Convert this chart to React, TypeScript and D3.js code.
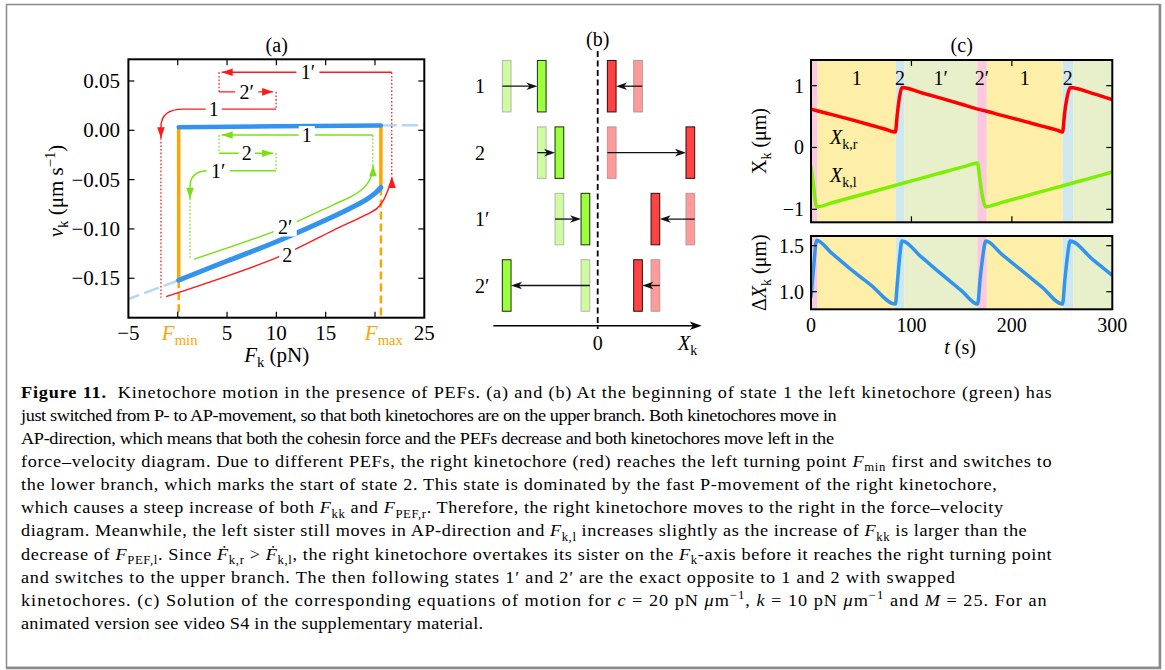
import React from 'react'
import * as d3 from 'd3'

type Pt = [number, number]
type Seg = [string, string]

const W = 1165
const H = 670
const SERIF = '"Liberation Serif", "DejaVu Serif", serif'

const RED = '#ff1a1a'
const GREEN = '#7ae014'
const BLUE = '#3394ee'
const ORANGE = '#ffa500'

// ---------- (a) force-velocity diagram ----------
const fTicks = [0, 5, 10, 15, 20]
const fLabels: [number, string][] = [[-5, '−5'], [5, '5'], [10, '10'], [15, '15'], [25, '25']]
const vTicks = [0.05, 0, -0.05, -0.1, -0.15]
const vLabels = ['0.05', '0.00', '−0.05', '−0.10', '−0.15']
const F_MIN = 0.1
const F_MAX = 20.6
const upperBranch: Pt[] = [[0.1, 0.003], [10, 0.004], [20.6, 0.005]]
const lowerBranch: Pt[] = [[0.1, -0.152], [5, -0.1325], [10, -0.113], [15, -0.091], [17.5, -0.079], [19, -0.071], [20, -0.064], [20.6, -0.058]]
const upperGhost: Pt[] = [[20.6, 0.005], [25, 0.0053]]
const lowerGhost: Pt[] = [[0.1, -0.152], [-5, -0.171]]

type Ann = { kind: string; pts: Pt[]; label: string; at: Pt; dir: string }
// right kinetochore (red) path through the states
const redAnn: Ann[] = [
  { kind: 'line', pts: [[21.7, 0.0588], [4.46, 0.0588]], label: '1′', at: [13.2, 0.0588], dir: 'left' },
  { kind: 'line', pts: [[4.19, 0.039], [9.67, 0.039]], label: '2′', at: [7.0, 0.039], dir: 'right' },
  { kind: 'bend', pts: [[9.97, 0.0215], [0.57, 0.0215], [-1.7, 0.0215], [-1.7, 0.0034], [-1.7, -0.008]], label: '1', at: [3.65, 0.0215], dir: 'down' },
  { kind: 'curve', pts: [[-1.19, -0.1687], [10.04, -0.1291], [15.78, -0.1014], [19.17, -0.0852], [20.18, -0.0794], [20.85, -0.071], [21.3, -0.0609], [21.6, -0.052], [21.73, -0.0474]], label: '2', at: [11.1, -0.1268], dir: 'up' },
]
// left kinetochore (green)
const greenAnn: Ann[] = [
  { kind: 'line', pts: [[19.78, -0.0048], [4.46, -0.0048]], label: '1', at: [13.08, -0.0048], dir: 'left' },
  { kind: 'line', pts: [[4.19, -0.0233], [9.67, -0.0233]], label: '2', at: [7.0, -0.0233], dir: 'right' },
  { kind: 'bend', pts: [[9.97, -0.041], [3.1, -0.041], [1.25, -0.041], [1.25, -0.0575], [1.25, -0.0693]], label: '1′', at: [4.1, -0.041], dir: 'down' },
  { kind: 'curve', pts: [[1.65, -0.1306], [10.04, -0.1014], [15.78, -0.0755], [17.8, -0.066], [18.9, -0.058], [19.5, -0.0495], [19.75, -0.042], [19.8, -0.0355]], label: '2′', at: [10.9, -0.0985], dir: 'up' },
]
const redDots: Pt[][] = [
  [[21.7, 0.0588], [21.7, -0.0474]],
  [[4.19, 0.0588], [4.19, 0.039]],
  [[9.97, 0.039], [9.97, 0.0215]],
  [[-1.7, -0.008], [-1.7, -0.1697]],
]
const greenDots: Pt[][] = [
  [[19.78, -0.0048], [19.78, -0.0355]],
  [[4.19, -0.0048], [4.19, -0.0233]],
  [[9.97, -0.0233], [9.97, -0.041]],
  [[1.25, -0.0693], [1.25, -0.1306]],
]

// ---------- (b) kinetochore positions ----------
const rowNames = ['1', '2', '1′', '2′']
const leftFrom = [-0.948, -0.583, -0.399, -0.128]
const leftTo = [-0.583, -0.399, -0.128, -0.948]
const rightFrom = [0.42, 0.146, 0.965, 0.601]
const rightTo = [0.146, 0.965, 0.601, 0.42]

// ---------- (c) time courses ----------
const states: [string, number, number][] = [
  ['2′', 0, 6.6], ['1', 6.6, 84.3], ['2', 84.3, 92.8], ['1′', 92.8, 165.6],
  ['2′', 165.6, 175], ['1', 175, 250.5], ['2', 250.5, 261], ['1′', 261, 300],
]
const stateColor: Record<string, string> = { '1': '#fdeea8', '2': '#cfe7ef', '1′': '#e7f0ca', '2′': '#fbc8df' }
const labelledStates = [1, 2, 3, 4, 5, 6]
const xRight: Pt[] = [
  [0, 0.62], [6, 0.595], [20, 0.535], [40, 0.45], [60, 0.36], [75, 0.29], [84, 0.25],
  [86, 0.55], [88.5, 0.85], [90.5, 0.97], [110, 0.885], [130, 0.795], [150, 0.7], [166, 0.62],
  [175, 0.585], [190, 0.52], [210, 0.435], [230, 0.345], [245, 0.28], [250.5, 0.25],
  [252.5, 0.55], [255.5, 0.85], [258, 0.97], [280, 0.875], [300, 0.775],
]
const xLeft: Pt[] = [
  [0, -0.31], [2.5, -0.62], [5.6, -0.96], [20, -0.897], [40, -0.808], [60, -0.72], [84, -0.612],
  [100, -0.54], [120, -0.452], [140, -0.363], [155, -0.297], [165.7, -0.25], [168.2, -0.52],
  [171, -0.82], [173.8, -0.96], [190, -0.888], [210, -0.8], [230, -0.71], [250, -0.622],
  [270, -0.533], [290, -0.444], [300, -0.397],
]
const deltaX: Pt[] = [
  [0, 0.94], [2.5, 1.25], [5.6, 1.56], [20, 1.425], [40, 1.24], [60, 1.07], [84, 0.866],
  [86, 1.1], [88.5, 1.4], [90.5, 1.55], [110, 1.375], [130, 1.19], [150, 1.01], [165.9, 0.866],
  [168.5, 1.15], [171.5, 1.42], [174, 1.55], [190, 1.405], [210, 1.228], [230, 1.05],
  [250.5, 0.866], [252.5, 1.1], [255.5, 1.4], [258, 1.55], [280, 1.355], [300, 1.178],
]
const tTicks = [0, 100, 200, 300]
const xkTicks = [-1, 0, 1]
const dTicks = [1.0, 1.5]

// ---------- caption ----------
const caption: Seg[][] = [
  [['b', 'Figure 11.'], ['n', '  Kinetochore motion in the presence of PEFs. (a) and (b) At the beginning of state 1 the left kinetochore (green) has']],
  [['n', 'just switched from P- to AP-movement, so that both kinetochores are on the upper branch. Both kinetochores move in']],
  [['n', 'AP-direction, which means that both the cohesin force and the PEFs decrease and both kinetochores move left in the']],
  [['n', 'force–velocity diagram. Due to different PEFs, the right kinetochore (red) reaches the left turning point '], ['i', 'F'], ['sub', 'min'], ['n', ' first and switches to']],
  [['n', 'the lower branch, which marks the start of state 2. This state is dominated by the fast P-movement of the right kinetochore,']],
  [['n', 'which causes a steep increase of both '], ['i', 'F'], ['sub', 'kk'], ['n', ' and '], ['i', 'F'], ['sub', 'PEF,r'], ['n', '. Therefore, the right kinetochore moves to the right in the force–velocity']],
  [['n', 'diagram. Meanwhile, the left sister still moves in AP-direction and '], ['i', 'F'], ['sub', 'k,l'], ['n', ' increases slightly as the increase of '], ['i', 'F'], ['sub', 'kk'], ['n', ' is larger than the']],
  [['n', 'decrease of '], ['i', 'F'], ['sub', 'PEF,l'], ['n', '. Since '], ['i', 'Ḟ'], ['sub', 'k,r'], ['n', ' > '], ['i', 'Ḟ'], ['sub', 'k,l'], ['n', ', the right kinetochore overtakes its sister on the '], ['i', 'F'], ['sub', 'k'], ['n', '-axis before it reaches the right turning point']],
  [['n', 'and switches to the upper branch. The then following states 1′ and 2′ are the exact opposite to 1 and 2 with swapped']],
  [['n', 'kinetochores. (c) Solution of the corresponding equations of motion for '], ['i', 'c'], ['n', ' = 20 pN '], ['i', 'μ'], ['n', 'm'], ['sup', '−1'], ['n', ', '], ['i', 'k'], ['n', ' = 10 pN '], ['i', 'μ'], ['n', 'm'], ['sup', '−1'], ['n', ' and '], ['i', 'M'], ['n', ' = 25. For an']],
  [['n', 'animated version see video S4 in the supplementary material.']],
]
const captionEnds = [1051.7, 836.7, 834, 1051.7, 996.7, 1003, 1026.7, 1051.7, 955, 1046.7, 483]
const CAP_X = 21
const CAP_STRETCH = 1.06

const DIR: Record<string, number> = { left: Math.PI, right: 0, up: -Math.PI / 2, down: Math.PI / 2 }

const tri = (x: number, y: number, ang: number, len = 11, hw = 3.8) => {
  const c = Math.cos(ang), s = Math.sin(ang)
  const bx = x - len * c, by = y - len * s
  return `M${x},${y}L${bx - hw * s},${by + hw * c}L${bx + hw * s},${by - hw * c}Z`
}
const stealth = (x: number, y: number, ang: number, len = 11, hw = 4) => {
  const c = Math.cos(ang), s = Math.sin(ang)
  const bx = x - len * c, by = y - len * s
  const nx = x - len * 0.72 * c, ny = y - len * 0.72 * s
  return `M${x},${y}L${bx - hw * s},${by + hw * c}L${nx},${ny}L${bx + hw * s},${by - hw * c}Z`
}

function Rich({ segs, size }: { segs: Seg[]; size: number }) {
  let off = 0
  return (
    <>
      {segs.map(([k, t], i) => {
        const target = k === 'sub' ? size * 0.25 : k === 'sup' ? -size * 0.4 : 0
        const dy = target - off
        off = target
        const small = k === 'sub' || k === 'sup'
        return (
          <tspan key={i} dy={dy || undefined} fontSize={small ? size * 0.7 : undefined}
            fontStyle={k === 'i' ? 'italic' : undefined} fontWeight={k === 'b' ? 'bold' : undefined}>{t}</tspan>
        )
      })}
    </>
  )
}

export default function App() {
  const xF = d3.scaleLinear().domain([-5, 25]).range([128.4, 424.3])
  const yV = d3.scaleLinear().domain([-0.19, 0.072]).range([317.7, 59.3])
  const xB = d3.scaleLinear().domain([-1, 1]).range([501.7, 693.7])
  const yB = d3.scalePoint<string>().domain(rowNames).range([86.2, 285.5])
  const xT = d3.scaleLinear().domain([0, 300]).range([811, 1112.3])
  const yX = d3.scaleLinear().domain([-1.21, 1.415]).range([222.3, 60])
  const yD = d3.scaleLinear().domain([0.809, 1.605]).range([309.3, 236])

  const lineA = d3.line<Pt>().x(d => xF(d[0])).y(d => yV(d[1]))
  const curveA = d3.line<Pt>().x(d => xF(d[0])).y(d => yV(d[1])).curve(d3.curveCatmullRom)
  const lineX = d3.line<Pt>().x(d => xT(d[0])).y(d => yX(d[1])).curve(d3.curveMonotoneX)
  const lineD = d3.line<Pt>().x(d => xT(d[0])).y(d => yD(d[1])).curve(d3.curveMonotoneX)

  const [aL, aR] = xF.range()
  const [aB, aT] = yV.range()
  const [cL, cR] = xT.range()
  const [xB0, xT0] = yX.range()
  const [dB0, dT0] = yD.range()

  const annPath = (a: Ann) => {
    const p = a.pts.map(([f, v]) => [xF(f), yV(v)])
    if (a.kind === 'bend') return `M${p[0]}L${p[1]}Q${p[2]} ${p[3]}L${p[4]}`
    if (a.kind === 'curve') return curveA(a.pts) || ''
    return `M${p[0]}L${p[1]}`
  }

  const drawAnn = (anns: Ann[], color: string, dots: Pt[][], key: string) => (
    <g key={key}>
      {dots.map((d, i) => (
        <path key={'d' + i} d={lineA(d) || ''} stroke={color} strokeWidth={1.3} strokeDasharray="1.6 2" fill="none" />
      ))}
      {anns.map((a, i) => {
        const tip = a.pts[a.pts.length - 1]
        const w = a.label.length > 1 ? 23 : 16
        return (
          <g key={i}>
            <path d={annPath(a)} stroke={color} strokeWidth={1.4} fill="none" />
            <path d={tri(xF(tip[0]), yV(tip[1]), DIR[a.dir])} fill={color} />
            <rect x={xF(a.at[0]) - w / 2} y={yV(a.at[1]) - 9} width={w} height={18} fill="#fff" />
            <text x={xF(a.at[0])} y={yV(a.at[1]) + 7} fontSize={20} textAnchor="middle" fontFamily={SERIF}>{a.label}</text>
          </g>
        )
      })}
    </g>
  )

  const tick = 6
  const bw = 8.7
  const bh = 51.5

  return (
    <svg width={W} height={H} style={{ position: 'absolute', left: 0, top: 0, display: 'block' }} fontFamily={SERIF}>
      <defs>
        <clipPath id="clipA"><rect x={aL} y={aT} width={aR - aL} height={aB - aT} /></clipPath>
        <clipPath id="clipX"><rect x={cL} y={xT0} width={cR - cL} height={xB0 - xT0} /></clipPath>
        <clipPath id="clipD"><rect x={cL} y={dT0} width={cR - cL} height={dB0 - dT0} /></clipPath>
      </defs>
      <rect width={W} height={H} fill="#fff" />
      <rect x={6.5} y={4.5} width={1153} height={663} fill="none" stroke="#8a8a8a" strokeWidth={1.5} />
      <line x1={1160} x2={1160} y1={4} y2={669} stroke="#8a8a8a" strokeWidth={2.5} />
      <line x1={6} x2={1161} y1={668} y2={668} stroke="#8a8a8a" strokeWidth={2.5} />

      {/* ---------- panel (a) ---------- */}
      <text x={276.7} y={52} fontSize={20} textAnchor="middle">(a)</text>
      <g clipPath="url(#clipA)">
        <path d={lineA(upperGhost) || ''} stroke="#b5d7f6" strokeWidth={2.5} strokeDasharray="16 5" fill="none" />
        <path d={lineA(lowerGhost) || ''} stroke="#b5d7f6" strokeWidth={2.5} strokeDasharray="16 5" fill="none" />
        <line x1={xF(F_MIN)} x2={xF(F_MIN)} y1={yV(upperBranch[0][1])} y2={yV(lowerBranch[0][1])} stroke={ORANGE} strokeWidth={3.5} />
        <line x1={xF(F_MIN)} x2={xF(F_MIN)} y1={yV(lowerBranch[0][1])} y2={aB} stroke={ORANGE} strokeWidth={2.5} strokeDasharray="8 4" />
        <line x1={xF(F_MAX)} x2={xF(F_MAX)} y1={yV(upperBranch[2][1])} y2={yV(lowerBranch[lowerBranch.length - 1][1])} stroke={ORANGE} strokeWidth={3.5} />
        <line x1={xF(F_MAX)} x2={xF(F_MAX)} y1={yV(lowerBranch[lowerBranch.length - 1][1])} y2={aB} stroke={ORANGE} strokeWidth={2.5} strokeDasharray="8 4" />
        <path d={curveA(lowerBranch) || ''} stroke={BLUE} strokeWidth={5} fill="none" strokeLinecap="round" />
        <path d={lineA(upperBranch) || ''} stroke={BLUE} strokeWidth={4.5} fill="none" strokeLinecap="round" />
        {drawAnn(redAnn, RED, redDots, 'red')}
        {drawAnn(greenAnn, GREEN, greenDots, 'green')}
      </g>
      <rect x={aL} y={aT} width={aR - aL} height={aB - aT} fill="none" stroke="#000" strokeWidth={2} />
      {fTicks.map(f => (
        <g key={f}>
          <line x1={xF(f)} x2={xF(f)} y1={aB} y2={aB - tick} stroke="#000" strokeWidth={1.2} />
          <line x1={xF(f)} x2={xF(f)} y1={aT} y2={aT + tick} stroke="#000" strokeWidth={1.2} />
        </g>
      ))}
      {vTicks.map((v, i) => (
        <g key={v}>
          <line x1={aL} x2={aL + tick} y1={yV(v)} y2={yV(v)} stroke="#000" strokeWidth={1.2} />
          <line x1={aR} x2={aR - tick} y1={yV(v)} y2={yV(v)} stroke="#000" strokeWidth={1.2} />
          <text x={120} y={yV(v) + 7} fontSize={21} textAnchor="end">{vLabels[i]}</text>
        </g>
      ))}
      {fLabels.map(([f, s]) => (
        <text key={f} x={xF(f)} y={340} fontSize={21} textAnchor="middle">{s}</text>
      ))}
      <text x={xF(F_MIN) + 1} y={340} fontSize={21} textAnchor="middle" fill={ORANGE}><Rich segs={[['i', 'F'], ['sub', 'min']]} size={21} /></text>
      <text x={xF(F_MAX) + 3} y={340} fontSize={21} textAnchor="middle" fill={ORANGE}><Rich segs={[['i', 'F'], ['sub', 'max']]} size={21} /></text>
      <text x={276.7} y={362} fontSize={21} textAnchor="middle"><Rich segs={[['i', 'F'], ['sub', 'k'], ['n', ' (pN)']]} size={21} /></text>
      <text x={0} y={0} fontSize={21} textAnchor="middle" transform={`translate(63,191) rotate(-90)`}>
        <Rich segs={[['i', 'v'], ['sub', 'k'], ['n', '  (μm s'], ['sup', '−1'], ['n', ')']]} size={21} />
      </text>

      {/* ---------- panel (b) ---------- */}
      <text x={xB(0)} y={46} fontSize={20} textAnchor="middle">(b)</text>
      <line x1={xB(0)} x2={xB(0)} y1={51} y2={329} stroke="#000" strokeWidth={1.8} strokeDasharray="6 3.5" />
      {rowNames.map((r, i) => {
        const yc = yB(r) as number
        const lTo = leftTo[i], lFrom = leftFrom[i], rTo = rightTo[i], rFrom = rightFrom[i]
        const arrow = (from: number, to: number) => {
          const right = to > from
          const x1 = xB(from) + (right ? -bw / 2 : bw / 2)
          const x2 = xB(to) + (right ? -bw / 2 : bw / 2)
          return (
            <g>
              <line x1={x1} x2={x2 + (right ? -3 : 3)} y1={yc} y2={yc} stroke="#111" strokeWidth={1.3} />
              <path d={stealth(x2, yc, right ? 0 : Math.PI, 11, 3.8)} fill="#111" />
            </g>
          )
        }
        return (
          <g key={r}>
            <text x={475} y={yc + 7} fontSize={20}>{r}</text>
            <rect x={xB(lFrom) - bw / 2} y={yc - bh / 2} width={bw} height={bh} fill="#cdfb9d" stroke="#b4b4b4" strokeWidth={1} />
            <rect x={xB(rFrom) - bw / 2} y={yc - bh / 2} width={bw} height={bh} fill="#ff9a9a" stroke="#b49a9a" strokeWidth={1} />
            <rect x={xB(lTo) - bw / 2} y={yc - bh / 2} width={bw} height={bh} fill="#9cff3c" stroke="#1e2a10" strokeWidth={1} />
            <rect x={xB(rTo) - bw / 2} y={yc - bh / 2} width={bw} height={bh} fill="#ff4242" stroke="#2a1010" strokeWidth={1} />
            {arrow(lFrom, lTo)}
            {arrow(rFrom, rTo)}
          </g>
        )
      })}
      <line x1={493.3} x2={696} y1={325.7} y2={325.7} stroke="#000" strokeWidth={1.5} />
      <path d={stealth(701.7, 325.7, 0, 12, 4.3)} fill="#000" />
      <text x={xB(0)} y={350} fontSize={20} textAnchor="middle">0</text>
      <text x={678} y={350} fontSize={20}><Rich segs={[['i', 'X'], ['sub', 'k']]} size={20} /></text>

      {/* ---------- panel (c) ---------- */}
      <text x={961.7} y={52} fontSize={20} textAnchor="middle">(c)</text>
      <g clipPath="url(#clipX)">
        {states.map(([s, t0, t1], i) => (
          <rect key={i} x={xT(t0)} y={xT0} width={xT(t1) - xT(t0)} height={xB0 - xT0} fill={stateColor[s]} />
        ))}
        <path d={lineX(xRight) || ''} stroke="#ff0000" strokeWidth={3.5} fill="none" />
        <path d={lineX(xLeft) || ''} stroke="#7cf000" strokeWidth={3.5} fill="none" />
      </g>
      {labelledStates.map(i => (
        <text key={i} x={xT((states[i][1] + states[i][2]) / 2)} y={85} fontSize={20} textAnchor="middle">{states[i][0]}</text>
      ))}
      <text x={830} y={144} fontSize={20}><Rich segs={[['i', 'X'], ['sub', 'k,r']]} size={20} /></text>
      <text x={830} y={182} fontSize={20}><Rich segs={[['i', 'X'], ['sub', 'k,l']]} size={20} /></text>
      <rect x={cL} y={xT0} width={cR - cL} height={xB0 - xT0} fill="none" stroke="#000" strokeWidth={2} />
      {[100, 200].map(t => (
        <g key={t}>
          <line x1={xT(t)} x2={xT(t)} y1={xB0} y2={xB0 - tick} stroke="#000" strokeWidth={1.2} />
          <line x1={xT(t)} x2={xT(t)} y1={xT0} y2={xT0 + tick} stroke="#000" strokeWidth={1.2} />
          <line x1={xT(t)} x2={xT(t)} y1={dB0} y2={dB0 - tick} stroke="#000" strokeWidth={1.2} />
          <line x1={xT(t)} x2={xT(t)} y1={dT0} y2={dT0 + tick} stroke="#000" strokeWidth={1.2} />
        </g>
      ))}
      {xkTicks.map(v => (
        <g key={v}>
          <line x1={cL} x2={cL + tick} y1={yX(v)} y2={yX(v)} stroke="#000" strokeWidth={1.2} />
          <line x1={cR} x2={cR - tick} y1={yX(v)} y2={yX(v)} stroke="#000" strokeWidth={1.2} />
          <text x={804} y={yX(v) + 7} fontSize={20} textAnchor="end">{v < 0 ? '−' + Math.abs(v) : v}</text>
        </g>
      ))}
      <text x={0} y={0} fontSize={20} textAnchor="middle" transform={`translate(766,141) rotate(-90)`}>
        <Rich segs={[['n', 'X'], ['sub', 'k'], ['n', '  (μm)']]} size={20} />
      </text>

      <g clipPath="url(#clipD)">
        {states.map(([s, t0, t1], i) => (
          <rect key={i} x={xT(t0)} y={dT0} width={xT(t1) - xT(t0)} height={dB0 - dT0} fill={stateColor[s]} />
        ))}
        <path d={lineD(deltaX) || ''} stroke={BLUE} strokeWidth={3.5} fill="none" />
      </g>
      <rect x={cL} y={dT0} width={cR - cL} height={dB0 - dT0} fill="none" stroke="#000" strokeWidth={2} />
      {dTicks.map(v => (
        <g key={v}>
          <line x1={cL} x2={cL + tick} y1={yD(v)} y2={yD(v)} stroke="#000" strokeWidth={1.2} />
          <line x1={cR} x2={cR - tick} y1={yD(v)} y2={yD(v)} stroke="#000" strokeWidth={1.2} />
          <text x={804} y={yD(v) + 7} fontSize={20} textAnchor="end">{v.toFixed(1)}</text>
        </g>
      ))}
      {tTicks.map(t => (
        <text key={t} x={xT(t)} y={331.5} fontSize={20} textAnchor="middle">{t}</text>
      ))}
      <text x={960} y={354} fontSize={20} textAnchor="middle"><Rich segs={[['i', 't'], ['n', ' (s)']]} size={20} /></text>
      <text x={0} y={0} fontSize={20} textAnchor="middle" transform={`translate(766,272.7) rotate(-90)`}>
        <Rich segs={[['n', 'Δ'], ['i', 'X'], ['sub', 'k'], ['n', '  (μm)']]} size={20} />
      </text>

      {/* ---------- caption ---------- */}
      {caption.map((segs, i) => (
        <text key={i} x={0} y={0} fontSize={17.2} textLength={(captionEnds[i] - CAP_X) / CAP_STRETCH}
          transform={`translate(${CAP_X},${397.5 + i * 23.15}) scale(${CAP_STRETCH},1)`}
          lengthAdjust="spacing" fontFamily={SERIF} style={{ whiteSpace: 'pre' }}>
          <Rich segs={segs} size={17.2} />
        </text>
      ))}
    </svg>
  )
}
